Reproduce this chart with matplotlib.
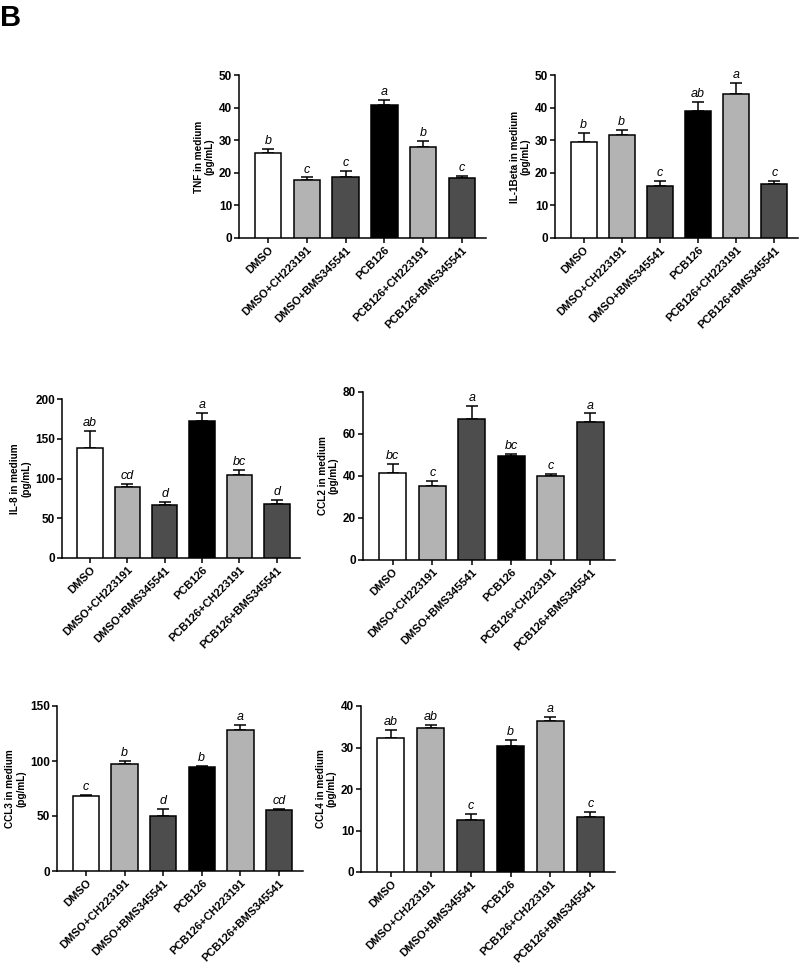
import numpy as np
import matplotlib
matplotlib.use("Agg")
import matplotlib.pyplot as plt
from matplotlib import font_manager

plt.rcParams['font.family'] = ['Liberation Sans', 'DejaVu Sans']


def pick_font(bold, italic):
    # avoid the Narrow variant that matplotlib sometimes picks for bold
    for f in font_manager.fontManager.ttflist:
        if f.name != "Liberation Sans" or "Narrow" in f.fname:
            continue
        is_bold = f.weight in ("bold", 700) or (isinstance(f.weight, int) and f.weight >= 700)
        if is_bold == bold and (f.style == "italic") == italic:
            return f.fname
    return None


def fp(size, bold=True, italic=False):
    fname = pick_font(bold, italic)
    if fname:
        return font_manager.FontProperties(fname=fname, size=size)
    return font_manager.FontProperties(family="DejaVu Sans", size=size,
                                       weight="bold" if bold else "normal",
                                       style="italic" if italic else "normal")


groups = ["DMSO", "DMSO+CH223191", "DMSO+BMS345541",
          "PCB126", "PCB126+CH223191", "PCB126+BMS345541"]
bar_colors = ["#ffffff", "#b3b3b3", "#4d4d4d", "#000000", "#b3b3b3", "#4d4d4d"]

tnf = [26.2, 17.7, 18.7, 40.7, 28.0, 18.3]
tnf_err = [1.2, 0.9, 2.0, 1.6, 1.9, 0.7]
tnf_sig = ["b", "c", "c", "a", "b", "c"]

il1b = [29.5, 31.5, 15.8, 39.1, 44.2, 16.6]
il1b_err = [2.6, 1.6, 1.7, 2.6, 3.4, 0.9]
il1b_sig = ["b", "b", "c", "ab", "a", "c"]

il8 = [138.4, 88.9, 67.0, 172.7, 104.8, 68.3]
il8_err = [21.7, 3.8, 3.8, 9.3, 5.5, 5.0]
il8_sig = ["ab", "cd", "d", "a", "bc", "d"]

ccl2 = [41.4, 35.1, 67.3, 49.5, 40.2, 65.6]
ccl2_err = [4.3, 2.4, 6.2, 1.1, 0.6, 4.2]
ccl2_sig = ["bc", "c", "a", "bc", "c", "a"]

ccl3 = [68.2, 97.3, 50.3, 94.5, 127.9, 55.2]
ccl3_err = [1.2, 2.7, 5.8, 1.2, 4.5, 1.2]
ccl3_sig = ["c", "b", "d", "b", "a", "cd"]

ccl4 = [32.3, 34.7, 12.5, 30.4, 36.3, 13.3]
ccl4_err = [1.9, 0.7, 1.4, 1.4, 1.0, 1.2]
ccl4_sig = ["ab", "ab", "c", "b", "a", "c"]

W, H = 800, 973
fig = plt.figure(figsize=(W / 100, H / 100), dpi=100)

# (left, right, top, bottom) in pixels, y label, ymax, tick step, data
panels = [
    ((239, 486, 75, 238), "TNF in medium\n(pg/mL)", 50, 10, tnf, tnf_err, tnf_sig),
    ((555, 798, 75, 238), "IL-1Beta in medium\n(pg/mL)", 50, 10, il1b, il1b_err, il1b_sig),
    ((62, 300, 399, 558), "IL-8 in medium\n(pg/mL)", 200, 50, il8, il8_err, il8_sig),
    ((363, 615, 392, 560), "CCL2 in medium\n(pg/mL)", 80, 20, ccl2, ccl2_err, ccl2_sig),
    ((57, 303, 706, 871), "CCL3 in medium\n(pg/mL)", 150, 50, ccl3, ccl3_err, ccl3_sig),
    ((361, 615, 706, 872), "CCL4 in medium\n(pg/mL)", 40, 10, ccl4, ccl4_err, ccl4_sig),
]

lw = 1.1
x = np.arange(len(groups))
for (l, r, t, b), ylabel, ymax, step, vals, errs, sig in panels:
    ax = fig.add_axes([l / W, (H - b) / H, (r - l) / W, (b - t) / H])
    ax.bar(x, vals, width=0.68, color=bar_colors, edgecolor="black",
           linewidth=lw, zorder=3)
    ax.errorbar(x, vals, yerr=[np.zeros(len(vals)), errs], fmt="none",
                ecolor="black", elinewidth=lw, capsize=4.5, capthick=lw,
                zorder=2)
    for i, (v, e, s) in enumerate(zip(vals, errs, sig)):
        ax.annotate(s, xy=(i, v + e), xytext=(0, 3.5), textcoords="offset points",
                    ha="center", va="baseline", fontproperties=fp(9, bold=False, italic=True))
    ax.set_xlim(-0.75, 5.62)
    ax.set_ylim(0, ymax)
    ax.set_yticks(np.arange(0, ymax + step, step))
    ax.set_xticks(x)
    ax.set_xticklabels(groups, rotation=45, ha="right", rotation_mode="anchor",
                       fontproperties=fp(8))
    for lab in ax.get_yticklabels():
        lab.set_fontproperties(fp(8.5))
    ax.set_ylabel(ylabel, fontproperties=fp(7.2), labelpad=3, linespacing=1.1)
    for sp in ["top", "right"]:
        ax.spines[sp].set_visible(False)
    for sp in ["left", "bottom"]:
        ax.spines[sp].set_linewidth(lw)
    ax.tick_params(direction="out", length=3.5, width=lw, pad=1.5)

fig.text(0.0, 0.996, "B", fontproperties=fp(21), ha="left", va="top")

fig.savefig("out.png", dpi=100)
